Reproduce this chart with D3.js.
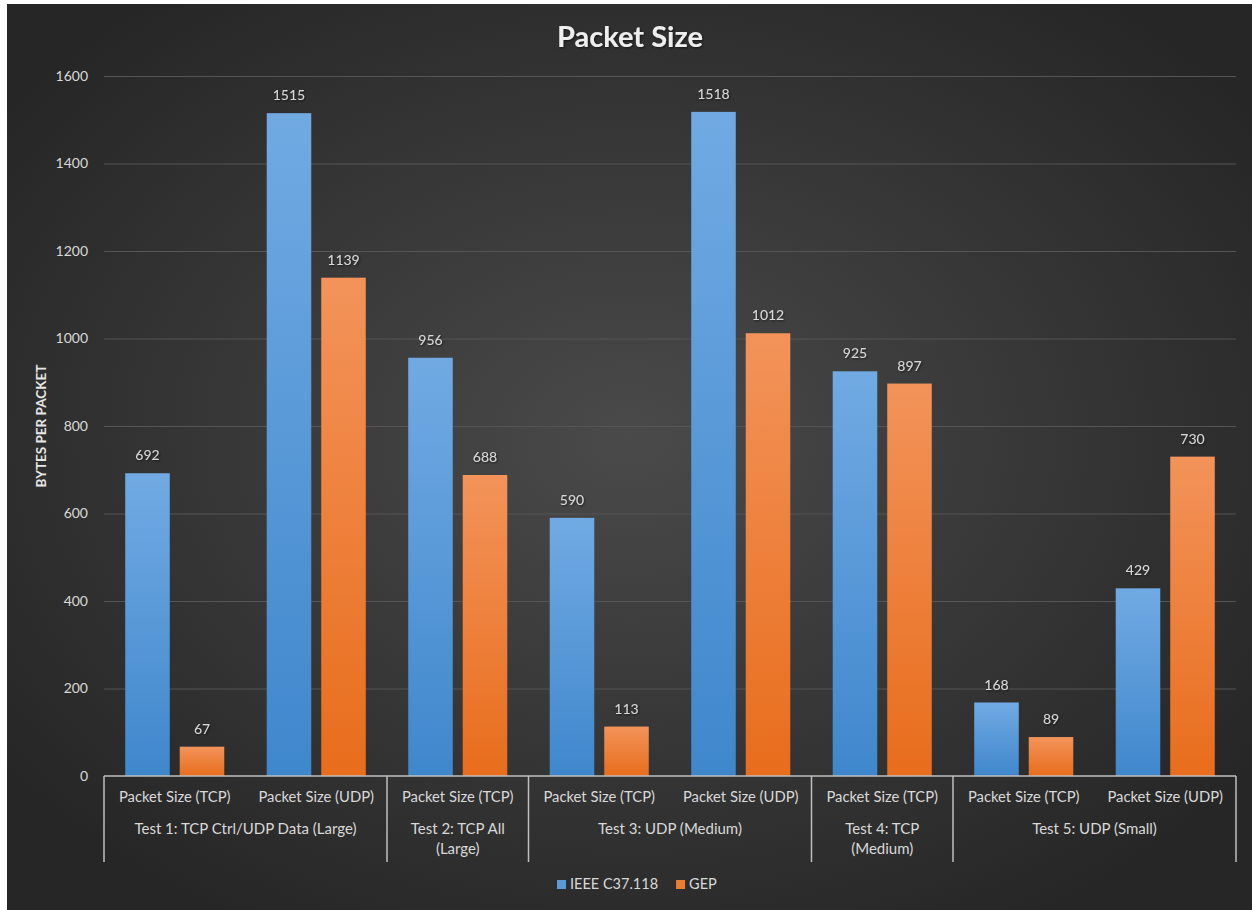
<!DOCTYPE html>
<html>
<head>
<meta charset="utf-8">
<script src="https://cdn.jsdelivr.net/npm/d3@7"></script>
<style>
  html, body { margin: 0; padding: 0; background: #ffffff; }
  svg { display: block; }
  text { font-family: Lato, "Open Sans", sans-serif; }
</style>
</head>
<body>
<div id="chart"></div>
<script>
// Packet size per test and transport, two protocols compared
const categories = [
  "Packet Size (TCP)", "Packet Size (UDP)",
  "Packet Size (TCP)",
  "Packet Size (TCP)", "Packet Size (UDP)",
  "Packet Size (TCP)",
  "Packet Size (TCP)", "Packet Size (UDP)"
];
const groups = [
  { lines: ["Test 1: TCP Ctrl/UDP Data (Large)"], size: 2 },
  { lines: ["Test 2: TCP All", "(Large)"], size: 1 },
  { lines: ["Test 3: UDP (Medium)"], size: 2 },
  { lines: ["Test 4: TCP", "(Medium)"], size: 1 },
  { lines: ["Test 5: UDP (Small)"], size: 2 }
];
const seriesNames = ["IEEE C37.118", "GEP"];
const ieeeValues = [692, 1515, 956, 590, 1518, 925, 168, 429];
const gepValues  = [67, 1139, 688, 113, 1012, 897, 89, 730];
const yTicks = [0, 200, 400, 600, 800, 1000, 1200, 1400, 1600];

const W = 1252, H = 910;
const margin = { left: 104, right: 16, top: 76, bottom: 134 };
const plotW = W - margin.left - margin.right;
const plotH = H - margin.top - margin.bottom;

const svg = d3.select("#chart").append("svg")
  .attr("width", W).attr("height", H);

const defs = svg.append("defs");
const bg = defs.append("radialGradient").attr("id", "bg")
  .attr("cx", "50%").attr("cy", "48%").attr("r", "62%");
bg.append("stop").attr("offset", "0%").attr("stop-color", "#4a4a4a");
bg.append("stop").attr("offset", "100%").attr("stop-color", "#262626");

const gradBlue = defs.append("linearGradient").attr("id", "gBlue")
  .attr("x1", 0).attr("y1", 0).attr("x2", 0).attr("y2", 1);
gradBlue.append("stop").attr("offset", "0%").attr("stop-color", "#71aae3");
gradBlue.append("stop").attr("offset", "100%").attr("stop-color", "#3f87cc");
const gradOrange = defs.append("linearGradient").attr("id", "gOrange")
  .attr("x1", 0).attr("y1", 0).attr("x2", 0).attr("y2", 1);
gradOrange.append("stop").attr("offset", "0%").attr("stop-color", "#f3935a");
gradOrange.append("stop").attr("offset", "100%").attr("stop-color", "#e86d1c");

const shadow = defs.append("filter").attr("id", "tshadow")
  .attr("x", "-10%").attr("y", "-20%").attr("width", "120%").attr("height", "150%");
shadow.append("feDropShadow").attr("dx", 1).attr("dy", 1)
  .attr("stdDeviation", 1).attr("flood-color", "#000").attr("flood-opacity", 0.6);

// chart background with white frame at top-left
svg.append("rect").attr("x", 7).attr("y", 4)
  .attr("width", W - 7).attr("height", H - 4).attr("fill", "url(#bg)");

const g = svg.append("g").attr("transform", `translate(${margin.left},${margin.top})`);

const idx = d3.range(categories.length);
const x0 = d3.scaleBand().domain(idx).range([0, plotW]).paddingInner(0.3).paddingOuter(0.15);
const x1 = d3.scaleBand().domain(seriesNames).range([0, x0.bandwidth()]).paddingInner(0.183);
const y = d3.scaleLinear().domain([0, 1600]).range([plotH, 0]);
const color = { "IEEE C37.118": "url(#gBlue)", "GEP": "url(#gOrange)" };
const legendColor = { "IEEE C37.118": "#5b9bd5", "GEP": "#ed7d31" };

// gridlines and value axis
const yAxis = d3.axisLeft(y).tickValues(yTicks).tickFormat(d3.format("d"))
  .tickSize(-plotW).tickPadding(16);
const ya = g.append("g").call(yAxis);
ya.select(".domain").remove();
ya.selectAll(".tick line").attr("stroke", "#555555").attr("stroke-width", 1)
  .filter(d => d === 0).remove();
ya.selectAll(".tick text").attr("fill", "#d9d9d9").attr("font-size", 14)
  .attr("font-family", "Lato, sans-serif");

// bars
const data = idx.map(i => ({ i, vals: [
  { s: seriesNames[0], v: ieeeValues[i] },
  { s: seriesNames[1], v: gepValues[i] }
] }));

const cg = g.selectAll(".cat").data(data).join("g")
  .attr("transform", d => `translate(${x0(d.i)},0)`);
cg.selectAll("rect").data(d => d.vals).join("rect")
  .attr("x", d => x1(d.s)).attr("width", x1.bandwidth())
  .attr("y", d => y(d.v)).attr("height", d => y(0) - y(d.v))
  .attr("fill", d => color[d.s]);
cg.selectAll("text.val").data(d => d.vals).join("text")
  .attr("class", "val")
  .attr("x", d => x1(d.s) + x1.bandwidth() / 2)
  .attr("y", d => y(d.v) - 13)
  .attr("text-anchor", "middle").attr("fill", "#d9d9d9").attr("font-size", 14)
  .attr("filter", "url(#tshadow)")
  .text(d => d.v);

// category axis with group brackets
const ax = g.append("g").attr("transform", `translate(0,${plotH})`);
ax.append("line").attr("x1", 0).attr("x2", plotW).attr("y1", 0).attr("y2", 0)
  .attr("stroke", "#bfbfbf").attr("stroke-width", 1.5);
ax.selectAll("text.cat").data(idx).join("text")
  .attr("class", "cat")
  .attr("x", i => x0(i) + x0.bandwidth() / 2).attr("y", 26)
  .attr("text-anchor", "middle").attr("fill", "#d9d9d9").attr("font-size", 14.8)
  .text(i => categories[i]);

const step = x0.step();
let start = 0;
const bounds = [0];
groups.forEach(gr => {
  const a = start * step, b = (start + gr.size) * step;
  const t = ax.append("text").attr("x", (a + b) / 2).attr("y", 58)
    .attr("text-anchor", "middle").attr("fill", "#d9d9d9").attr("font-size", 15);
  gr.lines.forEach((ln, k) => t.append("tspan").attr("x", (a + b) / 2)
    .attr("dy", k === 0 ? 0 : 20).text(ln));
  start += gr.size;
  bounds.push(start);
});
ax.selectAll("line.div").data(bounds).join("line")
  .attr("class", "div")
  .attr("x1", d => d * step).attr("x2", d => d * step)
  .attr("y1", 0).attr("y2", 86)
  .attr("stroke", "#bfbfbf").attr("stroke-width", 1.5);

// y-axis title
svg.append("text")
  .attr("transform", `translate(46,${margin.top + plotH / 2}) rotate(-90)`)
  .attr("text-anchor", "middle").attr("fill", "#e6e6e6")
  .attr("font-size", 13.5).attr("font-weight", "bold")
  .text("BYTES PER PACKET");

// title
svg.append("text").attr("x", 630).attr("y", 47)
  .attr("text-anchor", "middle").attr("fill", "#eeeeee")
  .attr("font-size", 29).attr("font-weight", "bold")
  .attr("filter", "url(#tshadow)")
  .text("Packet Size");

// legend
const legend = svg.append("g").attr("transform", "translate(557,884)");
let lx = 0;
seriesNames.forEach(s => {
  const item = legend.append("g").attr("transform", `translate(${lx},0)`);
  item.append("rect").attr("x", 0).attr("y", -4).attr("width", 9).attr("height", 9)
    .attr("fill", legendColor[s]);
  const t = item.append("text").attr("x", 13).attr("y", 5)
    .attr("fill", "#d9d9d9").attr("font-size", 14.5).text(s);
  lx += 13 + t.node().getComputedTextLength() + 18;
});
</script>
</body>
</html>
